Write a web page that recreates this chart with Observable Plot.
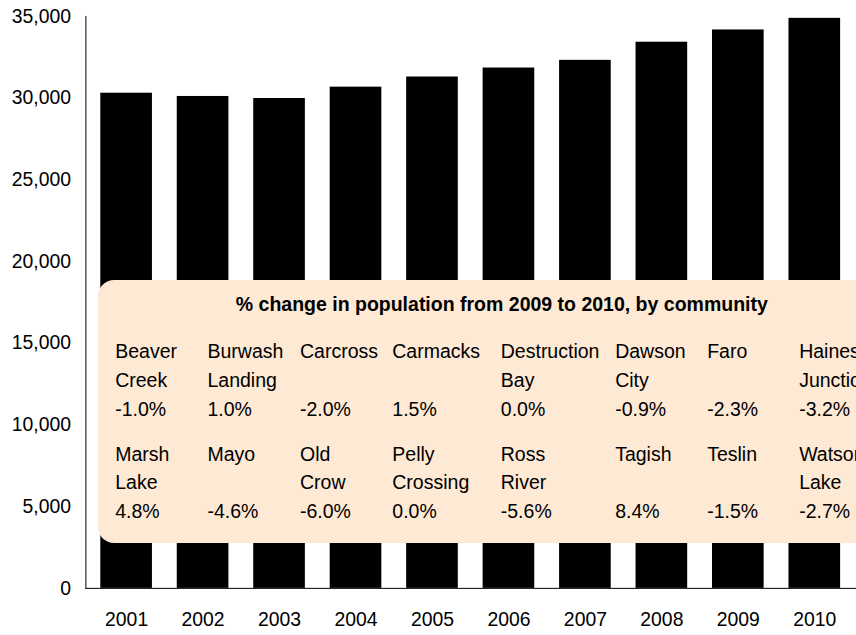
<!DOCTYPE html>
<html>
<head>
<meta charset="utf-8">
<script src="https://cdn.jsdelivr.net/npm/d3@7"></script>
<script src="https://cdn.jsdelivr.net/npm/@observablehq/plot@0.6"></script>
<style>
  html, body { margin: 0; padding: 0; background: #fff; overflow: hidden; }
  #wrap { position: relative; width: 856px; height: 635px; overflow: hidden; font-family: "Liberation Sans", Arial, sans-serif; }
  #box {
    position: absolute; left: 98.3px; top: 280px; width: 807px; height: 263px;
    background: #fde9d4; border-radius: 16px; color: #000;
    font-size: 19.5px; line-height: 28.8px;
  }
  #box .title { position: absolute; top: 10px; left: 0; width: 100%; text-align: center; font-weight: bold; white-space: nowrap; }
  #box table { position: absolute; top: 57px; left: 16.9px; border-collapse: collapse; table-layout: fixed; }
  #box td { padding: 0 21px 0 0; vertical-align: top; white-space: normal; overflow: visible; }
  #box .name { height: 57.6px; }
  #box tr.gap td { height: 16.3px; }
</style>
</head>
<body>
<div id="wrap">
  <div id="chart"></div>
  <div id="box">
    <div class="title" id="boxTitle"></div>
    <table id="tbl"></table>
  </div>
</div>
<script>
// ---- data ----
const years = ["2001", "2002", "2003", "2004", "2005", "2006", "2007", "2008", "2009", "2010"];
const population = [30300, 30100, 29975, 30670, 31290, 31840, 32310, 33420, 34170, 34880];
const yTicks = [0, 5000, 10000, 15000, 20000, 25000, 30000, 35000];

const boxTitle = "% change in population from 2009 to 2010, by community";
const communitiesRow1 = ["Beaver Creek", "Burwash Landing", "Carcross", "Carmacks", "Destruction Bay", "Dawson City", "Faro", "Haines Junction"];
const changesRow1 = ["-1.0%", "1.0%", "-2.0%", "1.5%", "0.0%", "-0.9%", "-2.3%", "-3.2%"];
const communitiesRow2 = ["Marsh Lake", "Mayo", "Old Crow", "Pelly Crossing", "Ross River", "Tagish", "Teslin", "Watson Lake"];
const changesRow2 = ["4.8%", "-4.6%", "-6.0%", "0.0%", "-5.6%", "8.4%", "-1.5%", "-2.7%"];

// ---- layout (not data) ----
const colWidths = [92.3, 92.5, 92.3, 108.5, 114.4, 92, 92, 92];

const data = years.map((year, i) => ({year, population: population[i]}));

const chart = Plot.plot({
  width: 862,
  height: 635,
  marginTop: 16,
  marginBottom: 43,
  marginLeft: 86,
  marginRight: 0,
  style: {fontFamily: "'Liberation Sans', Arial, sans-serif", fontSize: "19.5px", color: "#000", background: "#fff", overflow: "visible"},
  x: {domain: years, paddingInner: 0.32, paddingOuter: 0.16, label: null},
  y: {domain: [0, 35000], label: null},
  marks: [
    Plot.barY(data, {x: "year", y: "population", fill: "#000"}),
    Plot.ruleY([0], {stroke: "#000", strokeWidth: 1}),
    Plot.frame({anchor: "left", stroke: "#000"}),
    Plot.axisX({tickSize: 0, tickPadding: 24, label: null, fill: "#000"}),
    Plot.axisY({ticks: yTicks, tickSize: 0, tickPadding: 15, tickFormat: d3.format(","), label: null, fill: "#000"})
  ]
});
document.getElementById("chart").appendChild(chart);

// overlay box
document.getElementById("boxTitle").textContent = boxTitle;
const tbl = document.getElementById("tbl");
const cg = document.createElement("colgroup");
colWidths.forEach(w => { const c = document.createElement("col"); c.style.width = w + "px"; cg.appendChild(c); });
tbl.appendChild(cg);
tbl.style.width = d3.sum(colWidths) + "px";
function addRow(names, vals) {
  const tr = document.createElement("tr");
  names.forEach((n, i) => {
    const td = document.createElement("td");
    const nd = document.createElement("div"); nd.className = "name"; nd.textContent = n;
    const vd = document.createElement("div"); vd.className = "val"; vd.textContent = vals[i];
    td.appendChild(nd); td.appendChild(vd);
    tr.appendChild(td);
  });
  tbl.appendChild(tr);
}
addRow(communitiesRow1, changesRow1);
const gap = document.createElement("tr"); gap.className = "gap";
gap.appendChild(Object.assign(document.createElement("td"), {colSpan: 8}));
tbl.appendChild(gap);
addRow(communitiesRow2, changesRow2);
</script>
</body>
</html>
